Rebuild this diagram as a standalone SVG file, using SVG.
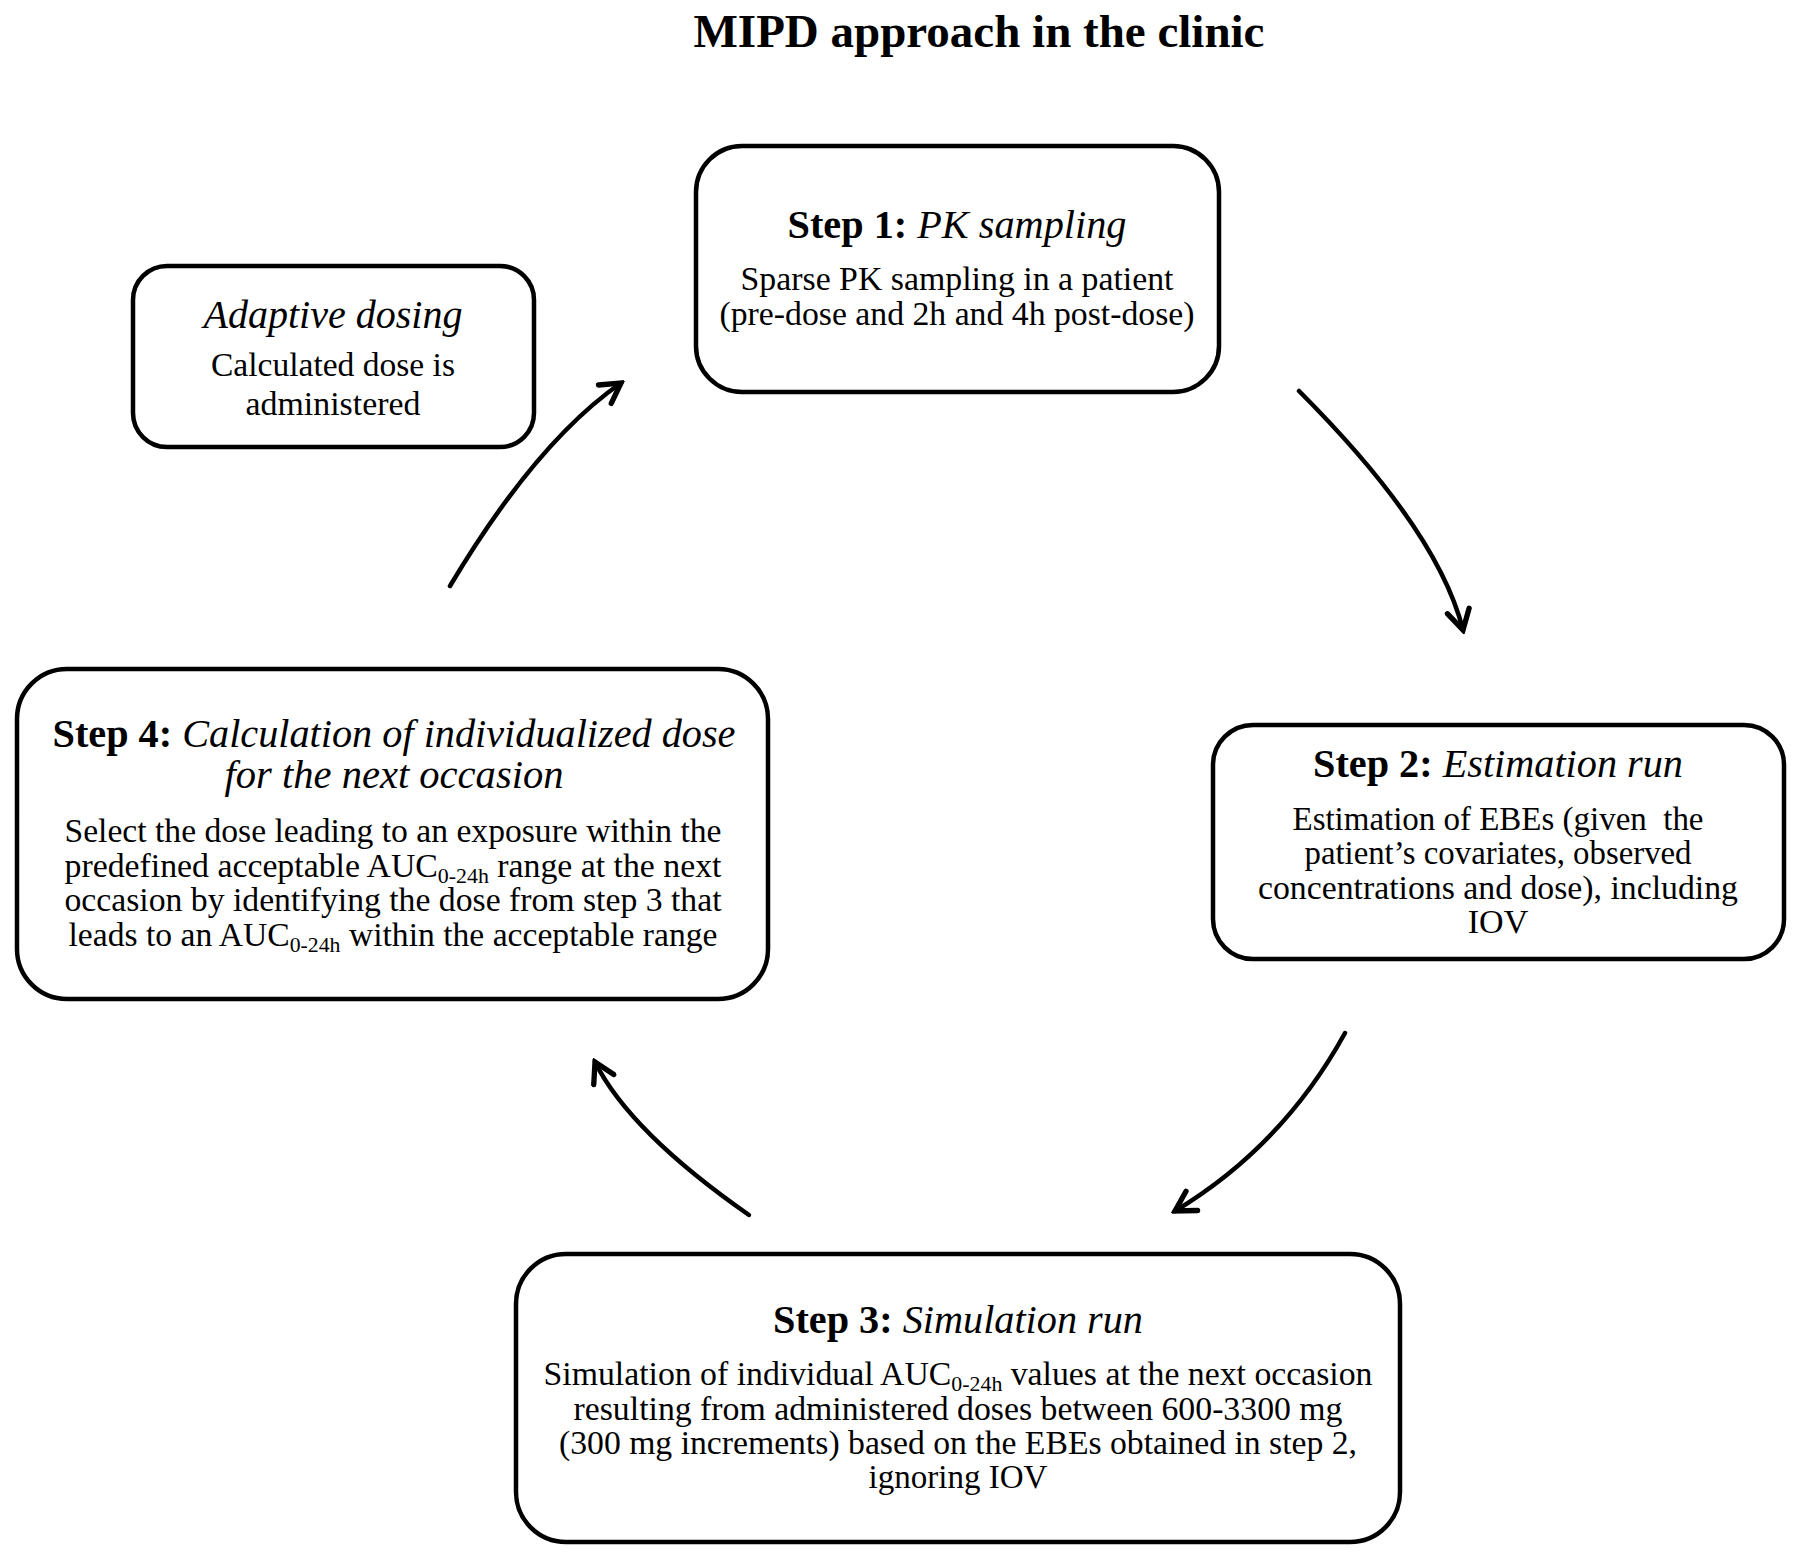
<svg xmlns="http://www.w3.org/2000/svg" width="1802" height="1562" viewBox="0 0 1802 1562">
<defs>
<style>
.box{fill:#fff;stroke:#000;stroke-width:4.5}
.t{font-family:"Liberation Serif","Times New Roman",serif;fill:#000;text-anchor:middle}
.h{font-size:39px}
.b{font-size:34px}
.bold{font-weight:bold}
.it{font-style:italic}
.sub{font-size:22px}
.conn{fill:none;stroke:#000;stroke-width:4.5;stroke-linecap:round}
</style>
<marker id="ah" viewBox="0 0 20 20" refX="17" refY="10" markerWidth="28" markerHeight="28" markerUnits="userSpaceOnUse" orient="auto">
<path d="M3,2 L17,10 L3,18" fill="none" stroke="#000" stroke-width="3.8" stroke-linecap="round" stroke-linejoin="miter"/>
</marker>
</defs>
<rect width="1802" height="1562" fill="#fff"/>
<text class="t bold" x="979" y="47" font-size="47">MIPD approach in the clinic</text>

<g id="step1">
<rect class="box" x="696" y="146" width="523" height="246" rx="46"/>
<text class="t h" x="957" y="238" textLength="339" lengthAdjust="spacingAndGlyphs"><tspan class="bold">Step 1: </tspan><tspan class="it">PK sampling</tspan></text>
<text class="t b" x="957" y="290" textLength="433" lengthAdjust="spacingAndGlyphs">Sparse PK sampling in a patient</text>
<text class="t b" x="957" y="325" textLength="475" lengthAdjust="spacingAndGlyphs">(pre-dose and 2h and 4h post-dose)</text>
</g>

<g id="adaptive">
<rect class="box" x="133" y="266" width="401" height="181" rx="34"/>
<text class="t h it" x="333" y="328" textLength="259" lengthAdjust="spacingAndGlyphs">Adaptive dosing</text>
<text class="t b" x="333" y="376" textLength="244" lengthAdjust="spacingAndGlyphs">Calculated dose is</text>
<text class="t b" x="333" y="415" textLength="175" lengthAdjust="spacingAndGlyphs">administered</text>
</g>

<g id="step2">
<rect class="box" x="1213" y="725" width="571" height="234" rx="40"/>
<text class="t h" x="1498" y="777" textLength="370" lengthAdjust="spacingAndGlyphs"><tspan class="bold">Step 2: </tspan><tspan class="it">Estimation run</tspan></text>
<text class="t b" x="1498" y="830" textLength="411" lengthAdjust="spacingAndGlyphs">Estimation of EBEs (given&#160; the</text>
<text class="t b" x="1498" y="864" textLength="387" lengthAdjust="spacingAndGlyphs">patient’s covariates, observed</text>
<text class="t b" x="1498" y="899" textLength="480" lengthAdjust="spacingAndGlyphs">concentrations and dose), including</text>
<text class="t b" x="1498" y="933">IOV</text>
</g>

<g id="step4">
<rect class="box" x="17" y="669" width="751" height="330" rx="50"/>
<text class="t h" x="394" y="747" textLength="683" lengthAdjust="spacingAndGlyphs"><tspan class="bold">Step 4: </tspan><tspan class="it">Calculation of individualized dose</tspan></text>
<text class="t h it" x="394" y="788" textLength="339" lengthAdjust="spacingAndGlyphs">for the next occasion</text>
<text class="t b" x="393" y="842" textLength="657" lengthAdjust="spacingAndGlyphs">Select the dose leading to an exposure within the</text>
<text class="t b" x="393" y="877" textLength="657" lengthAdjust="spacingAndGlyphs">predefined acceptable AUC<tspan class="sub" dy="6">0-24h</tspan><tspan dy="-6"> range at the next</tspan></text>
<text class="t b" x="393" y="911" textLength="657" lengthAdjust="spacingAndGlyphs">occasion by identifying the dose from step 3 that</text>
<text class="t b" x="393" y="946" textLength="649" lengthAdjust="spacingAndGlyphs">leads to an AUC<tspan class="sub" dy="6">0-24h</tspan><tspan dy="-6"> within the acceptable range</tspan></text>
</g>

<g id="step3">
<rect class="box" x="516" y="1254" width="884" height="288" rx="50"/>
<text class="t h" x="958" y="1333" textLength="370" lengthAdjust="spacingAndGlyphs"><tspan class="bold">Step 3: </tspan><tspan class="it">Simulation run</tspan></text>
<text class="t b" x="958" y="1385" textLength="829" lengthAdjust="spacingAndGlyphs">Simulation of individual AUC<tspan class="sub" dy="6">0-24h</tspan><tspan dy="-6"> values at the next occasion</tspan></text>
<text class="t b" x="958" y="1420" textLength="769" lengthAdjust="spacingAndGlyphs">resulting from administered doses between 600-3300 mg</text>
<text class="t b" x="958" y="1454" textLength="798" lengthAdjust="spacingAndGlyphs">(300 mg increments) based on the EBEs obtained in step 2,</text>
<text class="t b" x="958" y="1488" textLength="179" lengthAdjust="spacingAndGlyphs">ignoring IOV</text>
</g>

<g id="connectors">
<path class="conn" d="M1299,391 Q1438,530 1463,630" marker-end="url(#ah)"/>
<path class="conn" d="M1345,1033 Q1283,1146 1175,1211" marker-end="url(#ah)"/>
<path class="conn" d="M749,1215 Q630,1132 595,1062" marker-end="url(#ah)"/>
<path class="conn" d="M450,586 Q536,442 621,383" marker-end="url(#ah)"/>
</g>
</svg>
